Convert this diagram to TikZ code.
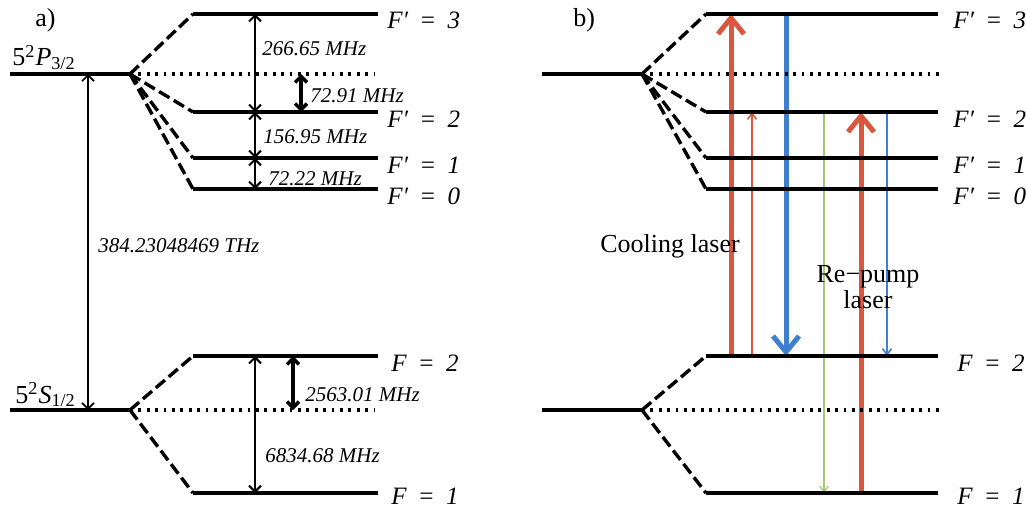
\documentclass[tikz,border=0pt]{standalone}
\usepackage{fontspec}
\setmainfont{Liberation Serif}
\usetikzlibrary{arrows.meta,positioning,backgrounds}
\definecolor{cool}{HTML}{D9573F}
\definecolor{back}{HTML}{3F7FD0}
\definecolor{repump}{HTML}{A8C870}
\newcommand{\eqsp}{\hspace{0.45em}}

\begin{document}
\begin{tikzpicture}[x=0.5pt,y=-0.5pt]
\tikzset{
 lvl/.style={line width=1.6pt},
 split/.style={line width=1.7pt,dash pattern=on 6pt off 2.5pt},
 ctr/.style={line width=1.6pt,dash pattern=on 1.4pt off 2.8pt},
 lab/.style={anchor=base west,inner sep=0pt,font=\fontsize{12.5}{14}\selectfont\itshape},
 hz/.style={anchor=base west,inner sep=0pt,font=\fontsize{10.5}{12}\selectfont\itshape},
 txt/.style={inner sep=0pt,font=\fontsize{13}{13}\selectfont},
 gap/.style={{Straight Barb[length=3pt,width=6pt]}-{Straight Barb[length=3pt,width=6pt]},line width=1pt},
 gapb/.style={{Straight Barb[length=3pt,width=6pt]}-{Straight Barb[length=3pt,width=6pt]},line width=1.7pt},
 beam/.style={-{Straight Barb[length=8pt,width=13pt]},line width=2.5pt},
 ray/.style={-{Straight Barb[length=3pt,width=4.5pt]},line width=0.8pt}
}
\useasboundingbox (0,0) rectangle (1026,508);

% both panels use the same level scheme
\foreach \p/\xl/\xs/\xa/\xb/\xe/\xg in {a/10/130/193/378/375/9,b/542/642/706/938/940/15}{
 \coordinate (\p P0) at (\xl,74); \coordinate (\p P) at (\xs,74); \coordinate (\p Pe) at (\xe,74);
 \coordinate (\p S0) at (\xl,410); \coordinate (\p S) at (\xs,410); \coordinate (\p Se) at (\xe,410);
 \draw[lvl] (\p P0) -- (\p P);
 \draw[lvl] (\p S0) -- (\p S);
 \draw[ctr] (\p P) -- (\p Pe);
 \draw[ctr] (\p S) -- (\p Se);
 \foreach \n/\y in {3/14,2/112,1/158,0/189}{
  \coordinate (\p F\n) at (\xa,\y); \coordinate (\p E\n) at (\xb,\y);
  \draw[split] (\p P) -- (\p F\n);
  \draw[lvl] (\p F\n) -- (\p E\n);
  \node[lab] (\p L\n) at ([shift={(\xg,15)}]\p E\n) {F′\eqsp=\eqsp\n};
 }
 \foreach \n/\y/\dy in {2/356/15,1/493/11}{
  \coordinate (\p G\n) at (\xa,\y); \coordinate (\p H\n) at (\xb,\y);
  \draw[split] (\p S) -- (\p G\n);
  \draw[lvl] (\p G\n) -- (\p H\n);
  \node[lab] (\p K\n) at ([shift={(\xg+4,\dy)}]\p H\n) {F\eqsp=\eqsp\n};
 }
}

\node[txt,anchor=base west] (tagA) at (35,27) {a)};
\node[txt,anchor=base west] (tagB) at (573,27) {b)};
\node[txt,anchor=base west] (lvlP) at (12,66) {5\textsuperscript{2}\textit{P}\textsubscript{3/2}};
\node[txt,anchor=base west] (lvlS) at (15,403) {5\textsuperscript{2}\textit{S}\textsubscript{1/2}};

% a) splittings
\coordinate (xt) at (88,0); \coordinate (xa) at (255,0);
\coordinate (xb) at (301,0); \coordinate (xc) at (293,0);
\draw[gap,line width=0.8pt] (xt |- aP) -- (xt |- aS);
\node[hz] (fopt) at (98,252) {384.23048469 THz};
\draw[gap] (xa |- aF3) -- (xa |- aF2);
\node[hz] (f32) at (262,56) {266.65 MHz};
\draw[gap] (xa |- aF2) -- (xa |- aF1);
\node[hz] (f21) at (263,143) {156.95 MHz};
\draw[gap] (xa |- aF1) -- (xa |- aF0);
\node[hz] (f10) at (268,185) {72.22 MHz};
\draw[gapb] (xb |- aPe) -- (xb |- aF2);
\node[hz] (f2c) at (310,103) {72.91 MHz};
\draw[gap] (xa |- aG2) -- (xa |- aG1);
\node[hz] (fhfs) at (265,462) {6834.68 MHz};
\draw[gapb] (xc |- aG2) -- (xc |- aSe);
\node[hz] (f2s) at (305,401) {2563.01 MHz};

% b) laser beams
\coordinate (xr) at (731,0); \coordinate (xq) at (752,0); \coordinate (xu) at (786,0);
\coordinate (xg) at (824,0); \coordinate (xs) at (861,0); \coordinate (xv) at (887,0);
\begin{scope}[on background layer]
\draw[beam,cool] (xr |- bG2) -- (xr |- bF3);
\draw[ray,cool] (xq |- bG2) -- (xq |- bF2);
\draw[beam,back] (xu |- bF3) -- (xu |- bG2);
\draw[ray,repump,line width=0.6pt] (xg |- bF2) -- (xg |- bG1);
\draw[beam,cool] (xs |- bG1) -- (xs |- bF2);
\draw[ray,back] (xv |- bF2) -- (xv |- bG2);
\end{scope}
\node[txt,anchor=base] (coolL) at (670,252) {Cooling laser};
\node[txt,align=center] (repL) at (868,287) {Re−pump\\laser};
\end{tikzpicture}
\end{document}
